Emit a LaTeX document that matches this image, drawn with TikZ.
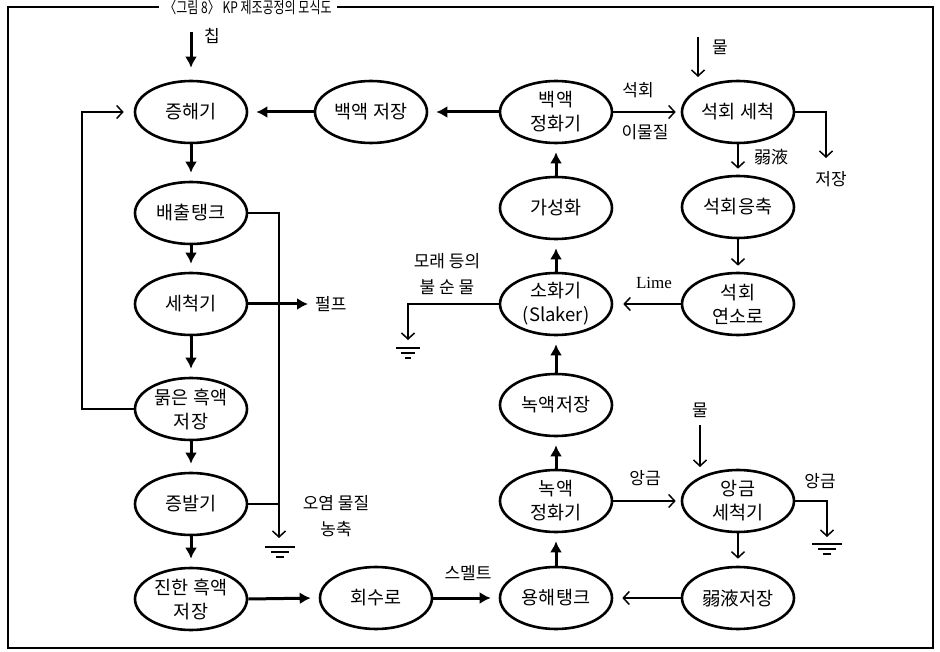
\documentclass[tikz,border=0pt]{standalone}
\usepackage{fontspec}
\usepackage{graphicx}
\setmainfont{Noto Sans CJK KR}
\newfontfamily\latserif{Liberation Serif}
\usetikzlibrary{shapes.geometric,arrows.meta}
\begin{document}
\begin{tikzpicture}[x=1pt,y=-1pt,
 proc/.style={ellipse, draw, line width=2.6pt, minimum width=112pt, minimum height=62pt, inner sep=-6pt, align=center, font=\fontsize{18.5}{24}\selectfont},
 thickarr/.style={line width=3pt, -{Latex[length=11pt,width=12pt]}, shorten >=8pt},
 thinarr/.style={line width=1.5pt, -{Straight Barb[length=6pt,width=13pt]}, shorten >=8pt},
 thinl/.style={line width=1.5pt},
 lab/.style={font=\fontsize{17}{26}\selectfont, align=center, inner sep=0pt},
 gnd/.pic={\draw[line width=1.5pt] (-15,0)--(15,0) (-9,5)--(9,5) (-4,10)--(4,10);},
 gnds/.pic={\draw[line width=1.5pt] (-12,0)--(12,0) (-7,5)--(7,5) (-3,10)--(3,10);}
]
\useasboundingbox (0,0) rectangle (940,652);
\draw[line width=1.5pt] (8,7) rectangle (933,648);
\node[fill=white, inner xsep=5pt, inner ysep=0pt, font=\fontsize{16}{17}\selectfont] (title) at (248,7) {\scalebox{0.75}[1]{〈그림 8〉 KP 제조공정의 모식도}};

% left column
\node[proc] (dig) at (191,112) {증해기};
\node[proc] (blow) at (191,213) {배출탱크};
\node[proc] (wash) at (191,304) {세척기};
\node[proc] (weak) at (191,409) {묽은 흑액\\저장};
\node[proc] (evap) at (191,504) {증발기};
\node[proc] (strong) at (191,599) {진한 흑액\\저장};
% bottom / middle
\node[proc] (recov) at (376,598) {회수로};
\node[proc] (diss) at (556,598) {용해탱크};
\node[proc] (gclar) at (556,501) {녹액\\정화기};
\node[proc] (gstor) at (556,405) {녹액저장};
\node[proc] (slak) at (556,304) {소화기\\(Slaker)};
\node[proc] (caus) at (556,208) {가성화};
\node[proc] (wclar) at (556,112) {백액\\정화기};
\node[proc] (wstor) at (371,112) {백액 저장};
% right column
\node[proc] (lwash) at (738,112) {석회 세척};
\node[proc] (lcon) at (738,207) {석회응축};
\node[proc] (kiln) at (738,304) {석회\\연소로};
\node[proc] (dwash) at (738,501) {앙금\\세척기};
\node[proc] (wlstor) at (738,598) {弱液저장};

% chip input
\coordinate (chip) at (191,32);
\draw[thickarr, shorten >=12pt] (chip) -- (dig.north);
\node[lab] (chiplab) at (212,36) {칩};

% left column flow
\draw[thickarr] (dig.south) -- (blow.north);
\draw[thickarr] (blow.south) -- (wash.north);
\draw[thickarr] (wash.south) -- (weak.north);
\draw[thickarr] (weak.south) -- (evap.north);
\draw[thickarr] (evap.south) -- (strong.north);
\draw[thickarr] (strong.east) -- (recov.west);
\draw[thickarr] (recov.east) -- (diss.west);
\node[lab] (smelt) at (468,573) {스멜트};

% pulp
\coordinate (pulp) at (308,304);
\draw[thickarr, shorten >=0pt] (wash.east) -- (pulp);
\node[lab, anchor=west] (pulplab) at (315,304) {펄프};

% feedback weak black liquor
\coordinate (fbx) at (82,0);
\draw[thinarr, shorten >=10pt] (weak.west) -- (weak.west -| fbx) |- (dig.west);

% drain line
\coordinate (drx) at (279,0);
\coordinate (drend) at (279,538);
\draw[thinarr, shorten >=0pt] (blow.east) -- (blow.east -| drx) -- (drend);
\draw[thinl] (evap.east) -- (evap.east -| drx);
\pic at (280,547) {gnd};
\node[lab] (pollut) at (336,516) {오염 물질\\농축};

% middle column upward
\draw[thickarr] (diss.north) -- (gclar.south);
\draw[thickarr] (gclar.north) -- (gstor.south);
\draw[thickarr] (gstor.north) -- (slak.south);
\draw[thickarr] (slak.north) -- (caus.south);
\draw[thickarr] (caus.north) -- (wclar.south);
\draw[thickarr] (wclar.west) -- (wstor.east);
\draw[thickarr] (wstor.west) -- (dig.east);

% lime cycle
\draw[thinarr, shorten >=5pt] (wclar.east) -- (lwash.west);
\node[lab] (limelab) at (638,90) {석회};
\node[lab] (impur) at (645,132) {이물질};
\coordinate (water1) at (698,37);
\coordinate (water1e) at (698,77);
\draw[thinarr, shorten >=0pt] (water1) -- (water1e);
\node[lab] (w1lab) at (720,47) {물};
\draw[thinarr, shorten >=6pt] (lwash.south) -- (lcon.north);
\node[lab] (weak1) at (771,157) {弱液};
\coordinate (stx) at (826,0);
\coordinate (stend) at (826,158);
\draw[thinarr, shorten >=0pt] (lwash.east) -- (lwash.east -| stx) -- (stend);
\node[lab] (storlab) at (831,179) {저장};
\draw[thinarr, shorten >=6pt] (lcon.south) -- (kiln.north);
\draw[thinarr, shorten >=10pt] (kiln.west) -- (slak.east);
\node[lab, font=\latserif\fontsize{17}{20}\selectfont] (lime) at (654,283) {Lime};

% slaker impurities
\coordinate (sgx) at (408,0);
\coordinate (sgend) at (408,340);
\draw[thinarr, shorten >=0pt] (slak.west) -- (slak.west -| sgx) -- (sgend);
\pic at (408,348) {gnds};
\node[lab] (sand) at (447,274) {모래 등의\\불 순 물};

% dregs
\draw[thinarr, shorten >=5pt] (gclar.east) -- (dwash.west);
\node[lab] (dregs1) at (645,478) {앙금};
\coordinate (water2) at (700,425);
\coordinate (water2e) at (700,467);
\draw[thinarr, shorten >=0pt] (water2) -- (water2e);
\node[lab] (w2lab) at (700,410) {물};
\coordinate (dgx) at (827,0);
\coordinate (dgend) at (827,537);
\draw[thinarr, shorten >=0pt] (dwash.east) -- (dwash.east -| dgx) -- (dgend);
\pic at (827,544) {gnd};
\node[lab] (dregs2) at (820,481) {앙금};
\draw[thinarr, shorten >=7pt] (dwash.south) -- (wlstor.north);
\draw[thinarr, shorten >=9pt] (wlstor.west) -- (diss.east);
\end{tikzpicture}
\end{document}
